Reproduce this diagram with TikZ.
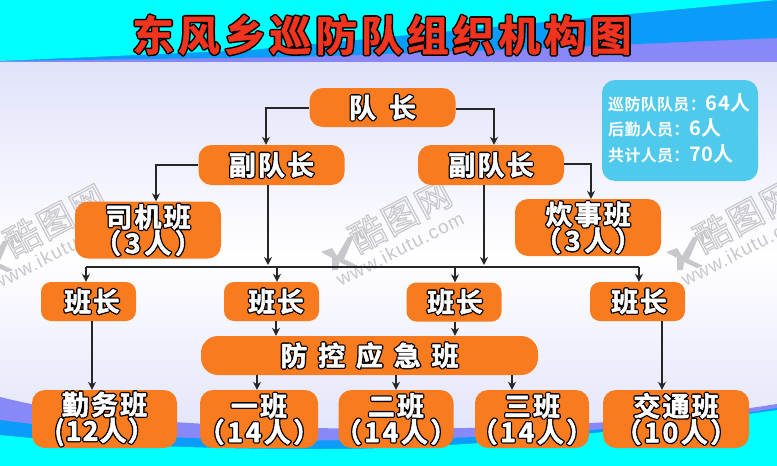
\documentclass[tikz,border=0pt]{standalone}
\usepackage{fontspec}
\setmainfont{Liberation Sans}
\newfontfamily\cjk{Noto Sans CJK SC}[BoldFont={Noto Sans CJK SC Bold}]
\usetikzlibrary{arrows.meta}
\definecolor{boxor}{HTML}{F97B20}
\definecolor{infob}{HTML}{4FC9EC}
\definecolor{cya}{HTML}{00FFFF}
\definecolor{blu}{HTML}{0A9CF8}
\definecolor{per}{HTML}{8888F8}
\definecolor{lav}{HTML}{E0E2FA}
\definecolor{wm}{HTML}{C8C8CC}
\definecolor{ttl}{HTML}{F0341E}
% outlined text: a heavy black stroked layer under a slightly emboldened fill
\newcommand{\olw}[3]{\rlap{\special{pdf:code q 0 0 0 RG 0 0 0 rg 1 Tr #1 w 1 J 1 j}#3\special{pdf:code 0 Tr Q}}\special{pdf:code #2 RG 2 Tr 0.5 w 1 j}#3\special{pdf:code 0 Tr}}
\newcommand{\lbl}[2][0]{{\cjk\bfseries\addfontfeature{LetterSpace=#1}\color{white}\olw{3.2}{1 1 1}{#2}}}
\newcommand{\ctrline}[1]{\makebox[0pt][c]{#1}}
\tikzset{
  x=1pt,y=-1pt,
  box/.style={fill=boxor,rounded corners=13pt,inner sep=0pt,font=\fontsize{27}{26}\selectfont,align=center},
  conn/.style={draw=black!85,line width=1.2pt,-{Stealth[length=8pt,width=8pt]}},
  plain/.style={draw=black!85,line width=1.2pt},
  wmcn/.style={rotate=28,text=wm,font=\fontsize{35}{35}\selectfont},
  wmen/.style={rotate=27,text=wm,font=\fontsize{19}{19}\selectfont},
}
\newcommand{\wmark}[2]{%
  \begin{scope}[shift={(#1,#2)}]
    \node[wmcn] (wc#1) at (0,0) {\cjk\addfontfeature{LetterSpace=6}\special{pdf:code 0.78 0.78 0.8 RG 1 Tr 1.2 w}酷图网\special{pdf:code 0 Tr}};
    \node[wmen] (we#1) at (0,33) {\addfontfeature{LetterSpace=6}www.ikutu.com};
    \fill[wm] (-79,36) -- (-68,32) -- (-63,40) -- (-52,21) -- (-46,20) -- (-56,43) -- (-42,50) -- (-48,52) -- (-61,46) -- (-62,54) -- (-68,54) -- (-68,42) -- cycle;
  \end{scope}}
\begin{document}
\begin{tikzpicture}
\useasboundingbox (0,0) rectangle (777,466);
% background
\shade[top color=lav,bottom color=lav,middle color=white,shading angle=0] (0,60) rectangle (777,450);
\wmark{55}{220}
\wmark{400}{216}
\wmark{745}{216}
% top band
\fill[per] (0,62) -- (777,62) -- (777,0) -- (0,0) -- cycle;
\fill[blu] (0,61) -- (300,57) -- (500,50) -- (777,38) -- (777,0) -- (0,0) -- cycle;
\fill[cya] (0,61) -- (250,50) -- (777,0) -- (0,0) -- cycle;
% bottom band
\fill[per] (0,397) .. controls (60,412) and (130,420) .. (190,423) .. controls (350,433) and (600,432) .. (777,404) -- (777,466) -- (0,466) -- cycle;
\fill[blu] (0,420) .. controls (60,428) and (130,435) .. (190,438) .. controls (350,445) and (600,438) .. (777,408) -- (777,466) -- (0,466) -- cycle;
\fill[cya] (0,435) .. controls (100,445) and (200,449) .. (320,449) .. controls (480,449) and (650,428) .. (777,410) -- (777,466) -- (0,466) -- cycle;
% title
\node[font=\fontsize{42}{42}\selectfont] (title) at (382,35) {{\cjk\bfseries\addfontfeature{LetterSpace=9}\color{ttl}\olw{3.6}{0.94 0.2 0.12}{东风乡巡防队组织机构图}}};
% info
\node[fill=infob,rounded corners=13pt,minimum width=156pt,minimum height=101pt,inner sep=0pt] (info) at (680,130.5) {};
\node[anchor=west,inner sep=0pt,text=white,font=\fontsize{16}{16}\selectfont] (i1) at (608,103) {\cjk\bfseries\addfontfeature{LetterSpace=2} 巡防队队员：\fontsize{20}{20}\selectfont 64人};
\node[anchor=west,inner sep=0pt,text=white,font=\fontsize{16}{16}\selectfont] (i2) at (608,128) {\cjk\bfseries\addfontfeature{LetterSpace=2} 后勤人员：\fontsize{20}{20}\selectfont 6人};
\node[anchor=west,inner sep=0pt,text=white,font=\fontsize{16}{16}\selectfont] (i3) at (608,154) {\cjk\bfseries\addfontfeature{LetterSpace=2} 共计人员：\fontsize{20}{20}\selectfont 70人};
% nodes
\node[box,minimum width=146pt,minimum height=39pt] (dz) at (382.5,107.5) {\lbl{队\hspace{13pt}长}};
\node[box,minimum width=146pt,minimum height=40pt] (fl) at (271.5,165) {\lbl[8]{副队长}};
\node[box,minimum width=146pt,minimum height=40pt] (fr) at (491,165) {\lbl[8]{副队长}};
\node[box,minimum width=146pt,minimum height=57pt,text width=110pt] (sj) at (148,230) {\lbl[8]{司机班}\\\ctrline{\lbl[13]{（3人）}}};
\node[box,minimum width=146pt,minimum height=57pt,text width=110pt] (cs) at (588,227.5) {\lbl[8]{炊事班}\\\ctrline{\lbl[13]{（3人）}}};
\node[box,minimum width=95pt,minimum height=39pt,rounded corners=10pt] (b1) at (88.5,301.5) {\hspace{7pt}\lbl[6]{班长}};
\node[box,minimum width=95pt,minimum height=39pt,rounded corners=10pt] (b2) at (271.5,301.5) {\hspace{9pt}\lbl[6]{班长}};
\node[box,minimum width=95pt,minimum height=39pt,rounded corners=10pt] (b3) at (454,302) {\hspace{2pt}\lbl[6]{班长}};
\node[box,minimum width=95pt,minimum height=39pt,rounded corners=10pt] (b4) at (637.5,301.5) {\hspace{3pt}\lbl[6]{班长}};
\node[box,minimum width=337pt,minimum height=39pt,rounded corners=17pt] (fk) at (369.5,355.5) {\lbl[40]{防控应急班}};
\node[box,minimum width=145pt,minimum height=58pt,text width=110pt] (qw) at (104.5,419) {\lbl[8]{勤务班}\\\ctrline{\lbl[4]{(12人）}}};
\node[box,minimum width=118pt,minimum height=58pt,text width=110pt] (y1) at (259,419) {\lbl[8]{一班}\\\ctrline{\lbl[9]{（14人）}}};
\node[box,minimum width=115pt,minimum height=58pt,text width=110pt] (y2) at (396,419) {\lbl[8]{二班}\\\ctrline{\lbl[9]{（14人）}}};
\node[box,minimum width=114pt,minimum height=58pt,text width=110pt] (y3) at (532,419) {\lbl[8]{三班}\\\ctrline{\lbl[9]{（14人）}}};
\node[box,minimum width=146pt,minimum height=58pt,text width=110pt] (jt) at (676,419) {\lbl[8]{交通班}\\\ctrline{\lbl[9]{（10人）}}};
% bus
\coordinate (busl) at (86,267);
\coordinate (busr) at (639,267);
\coordinate (dropl) at (268,265);
\coordinate (dropr) at (484,265);
% connectors
\draw[conn] (dz.west |- 0,108) -| (fl.north -| 266,0);
\draw[conn] (dz.east |- 0,109) -| (fr.north -| 494,0);
\draw[conn] (fl.west) -| (sj.north -| 156,0);
\draw[conn] (fr.east |- 0,164) -| (cs.north -| 591,0);
\draw[conn] (fl.south -| dropl) -- (dropl);
\draw[conn] (fr.south -| dropr) -- (dropr);
\draw[plain] (busl) -- (busr);
\draw[conn] (busl) -- (b1.north -| busl);
\draw[conn] (busl -| 277,0) -- (b2.north -| 277,0);
\draw[conn] (busl -| 455,0) -- (b3.north -| 455,0);
\draw[conn] (busr) -- (b4.north -| busr);
\draw[conn] (b1.south -| 92,0) -- (qw.north -| 92,0);
\draw[conn] (b2.south -| 276,0) -- (fk.north -| 276,0);
\draw[conn] (b3.south -| 455,0) -- (fk.north -| 455,0);
\draw[conn] (b4.south -| 662,0) -- (jt.north -| 662,0);
\draw[conn] (fk.south -| 257,0) -- (y1.north -| 257,0);
\draw[conn] (fk.south -| 396,0) -- (y2.north -| 396,0);
\draw[conn] (fk.south -| 512,0) -- (y3.north -| 512,0);
\end{tikzpicture}
\end{document}
